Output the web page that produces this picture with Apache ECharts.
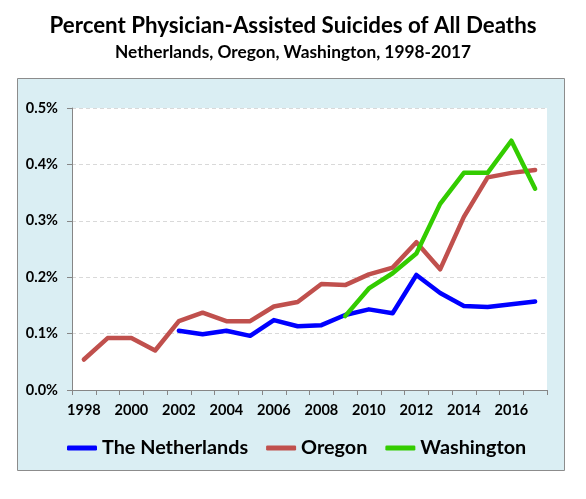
<!DOCTYPE html>
<html>
<head>
<meta charset="utf-8">
<script src="https://cdn.jsdelivr.net/npm/echarts@6/dist/echarts.min.js"></script>
<style>
html,body{margin:0;padding:0;background:#fff;}
#c{width:586px;height:499px;}
</style>
</head>
<body>
<div id="c"></div>
<script>
const years = ['1998','1999','2000','2001','2002','2003','2004','2005','2006','2007','2008','2009','2010','2011','2012','2013','2014','2015','2016','2017'];
const netherlands = [null,null,null,null,0.105,0.099,0.105,0.096,0.124,0.113,0.115,0.133,0.143,0.136,0.204,0.172,0.149,0.147,0.152,0.157];
const oregon = [0.054,0.092,0.092,0.070,0.122,0.137,0.122,0.122,0.148,0.156,0.188,0.186,0.205,0.217,0.262,0.214,0.307,0.377,0.385,0.390];
const washington = [null,null,null,null,null,null,null,null,null,null,null,0.131,0.180,0.207,0.242,0.330,0.385,0.385,0.442,0.357];
const yTicks = [0,0.1,0.2,0.3,0.4,0.5];

const FONT = 'Lato';
const chart = echarts.init(document.getElementById('c'), null, {renderer:'canvas'});
function mk(name, data, color){
  return {name, type:'line', data, showSymbol:false, symbol:'none', connectNulls:false,
    lineStyle:{color, width:4.5, cap:'round', join:'round'}, itemStyle:{color}};
}
chart.setOption({
  animation:false,
  textStyle:{fontFamily:FONT},
  graphic:[{type:'rect', z:-10, shape:{x:17.5,y:78.5,width:547,height:392}, style:{fill:'#DAEEF3', stroke:'#8C8C8C', lineWidth:1}}],
  title:[
    {text:'Percent Physician-Assisted Suicides of All Deaths', left:'center', top:10,
     textStyle:{fontFamily:FONT, fontSize:22.3, fontWeight:'bold', color:'#000'}},
    {text:'Netherlands, Oregon, Washington, 1998-2017', left:'center', top:39,
     textStyle:{fontFamily:FONT, fontSize:17.3, fontWeight:'bold', color:'#000'}}
  ],
  legend:{left:62, top:433, itemWidth:30, itemHeight:5, itemGap:18, icon:'roundRect',
    textStyle:{fontFamily:FONT, fontSize:19.8, fontWeight:'bold', color:'#000'},
    data:['The Netherlands','Oregon','Washington']},
  grid:{left:72, right:39, top:108, bottom:109, show:true, backgroundColor:'#fff', borderWidth:0},
  xAxis:{type:'category', data:years, boundaryGap:true,
    axisLine:{lineStyle:{color:'#868686', width:1}},
    axisTick:{show:true, interval:0, length:5, lineStyle:{color:'#868686'}},
    axisLabel:{interval:1, margin:13, fontFamily:FONT, fontSize:14.5, fontWeight:'bold', color:'#000'},
    splitLine:{show:false}},
  yAxis:{type:'value', min:yTicks[0], max:yTicks[yTicks.length-1], interval:0.1,
    axisLine:{show:true, lineStyle:{color:'#868686', width:1}},
    axisTick:{show:true, length:5, lineStyle:{color:'#868686'}},
    axisLabel:{margin:14, formatter:v=>v.toFixed(1)+'%', fontFamily:FONT, fontSize:14.5, fontWeight:'bold', color:'#000'},
    splitLine:{show:true, lineStyle:{color:'#D9D9D9', type:[4,3], width:1}}},
  series:[mk('The Netherlands', netherlands, '#0000FF'), mk('Oregon', oregon, '#C0504D'), mk('Washington', washington, '#33CC00')]
});
</script>
</body>
</html>
